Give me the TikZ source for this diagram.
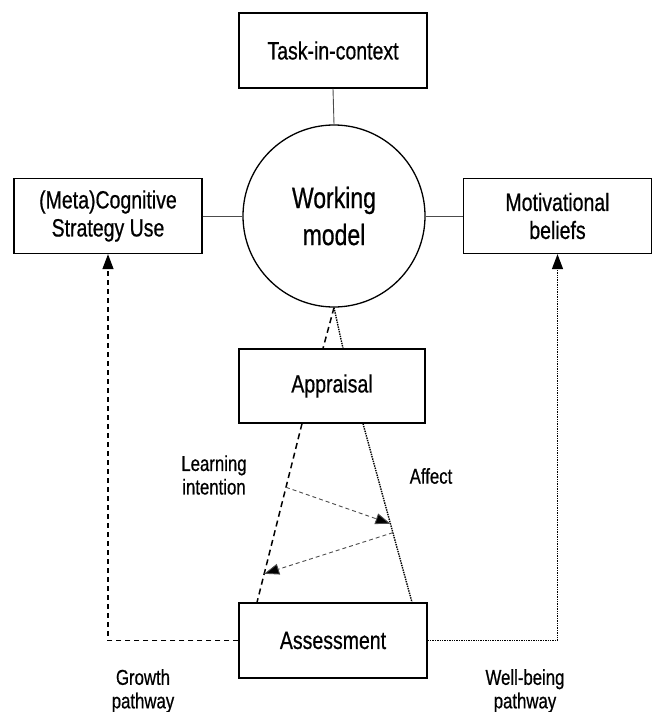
\documentclass[tikz,border=0pt]{standalone}
\usepackage{fontspec}
\setmainfont{Liberation Sans}[FakeStretch=0.78,FakeBold=0.6]
\usetikzlibrary{arrows.meta,calc}
\begin{document}
\begin{tikzpicture}[x=1pt,y=-1pt,
  box/.style={draw=black,line width=1.3pt,rectangle,minimum width=188pt,minimum height=75pt,inner sep=0pt,align=center,font=\fontsize{25}{28}\selectfont},
  wmcircle/.style={draw=black,line width=1.3pt,circle,minimum size=182pt,inner sep=0pt,align=center,font=\fontsize{29.5}{37}\selectfont},
  lbl/.style={align=center,inner sep=0pt,font=\fontsize{21.5}{23.5}\selectfont},
  thinline/.style={draw=black!70,line width=0.9pt},
  dashline/.style={draw=black,line width=1.5pt,dash pattern=on 6pt off 4pt},
  dotline/.style={draw=black,line width=1.4pt,dash pattern=on 1.4pt off 1pt},
  grayarrow/.style={draw=black!70,line width=0.9pt,dash pattern=on 4pt off 3pt,-{Triangle[length=15pt,width=11pt,fill=black]}},
  tipend/.style={-{Triangle[length=15pt,width=11pt]}}
]
\useasboundingbox (0,0) rectangle (655,712);
\clip (0,0) rectangle (655,712);

\node[box] (task) at (333,50.5) {Task-in-context};
\node[wmcircle] (wm) at (334,216) {Working\\model};
\node[box] (meta) at (108,216) {(Meta)Cognitive\\Strategy Use};
\node[box] (mot) at (557.5,216) {Motivational\\beliefs};
\node[box,minimum width=186pt,minimum height=74pt] (appr) at (332,386) {Appraisal};
\node[box] (assess) at (333,640.5) {Assessment};

\draw[thinline] (task.south) -- (wm.north);
\draw[thinline] (meta.east) -- (wm.west);
\draw[thinline] (wm.east) -- (mot.west);

\coordinate (aL) at ([xshift=-9pt]appr.north);
\coordinate (aR) at ([xshift=11pt]appr.north);
\draw[dashline] (wm.south) -- (aL);
\draw[dotline] (wm.south) -- (aR);

\coordinate (dA) at ([xshift=-30pt]appr.south);
\coordinate (dB) at ([xshift=-76pt]assess.north);
\coordinate (pA) at ([xshift=31pt]appr.south);
\coordinate (pB) at ([xshift=79pt]assess.north);
\draw[dashline] (dA) -- (dB);
\draw[dotline] (pA) -- (pB);

\coordinate (g1s) at ($(dA)!0.356!(dB)$);
\coordinate (g1e) at ($(pA)!0.56!(pB)$);
\coordinate (g2s) at ($(pA)!0.61!(pB)$);
\coordinate (g2e) at ($(dA)!0.84!(dB)$);
\draw[grayarrow] (g1s) -- (g1e);
\draw[grayarrow] (g2s) -- (g2e);

\draw[dashline,line width=1.3pt,dash pattern=on 5pt off 4pt,tipend] (assess.west) -| (meta.south);
\draw[dotline,tipend] (assess.east) -| (mot.south);

\node[lbl] (learn) at (214,475) {Learning\\intention};
\node[lbl] (affect) at (431,476) {Affect};
\node[lbl] (growth) at (143,691) {Growth\\pathway};
\node[lbl] (well) at (525,691) {Well-being\\pathway};
\end{tikzpicture}
\end{document}
